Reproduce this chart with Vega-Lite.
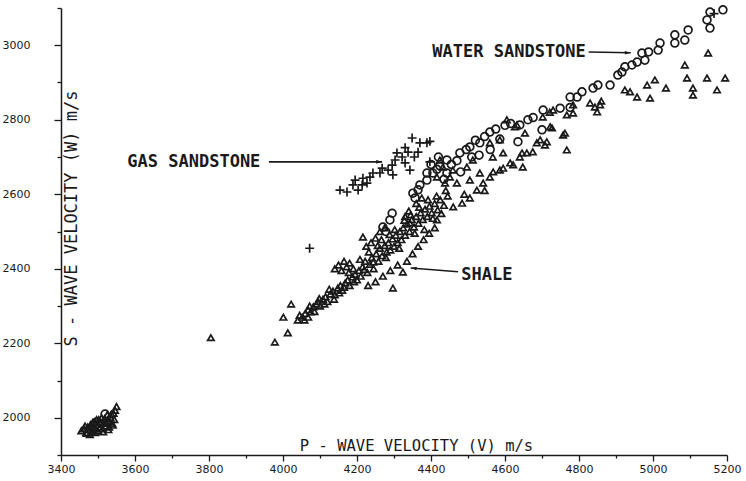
{
  "$schema": "https://vega.github.io/schema/vega-lite/v6.json",
  "width": 666,
  "height": 447,
  "autosize": {"type": "none"},
  "padding": {"left": 61, "top": 8, "right": 19, "bottom": 26},
  "background": "white",
  "config": {
    "view": {"stroke": null},
    "axis": {
      "domainColor": "#1a1a1a", "domainWidth": 1.5, "tickColor": "#1a1a1a", "tickWidth": 1.3,
      "labelFont": "DejaVu Sans", "labelFontSize": 11, "labelColor": "#1a1a1a", "grid": false,
      "titleFont": "DejaVu Sans Mono", "titleFontSize": 15, "titleFontWeight": "normal", "titleColor": "#1a1a1a",
      "labelFlush": false, "labelOverlap": false
    }
  },
  "datasets": {
    "labels": [
      {"v": 3759, "w": 2687, "label": "GAS SANDSTONE"},
      {"v": 4611, "w": 2982, "label": "WATER SANDSTONE"},
      {"v": 4551, "w": 2383, "label": "SHALE"}
    ],
    "arrows": [
      {"v": 3962, "w": 2687, "v2": 4268, "w2": 2687},
      {"v": 4826, "w": 2982, "v2": 4940, "w2": 2980},
      {"v": 4473, "w": 2392, "v2": 4345, "w2": 2402}
    ],
    "points": [
      {"v":3455,"w":1965,"t":"shale"},{"v":3462,"w":1970,"t":"shale"},{"v":3468,"w":1960,"t":"shale"},{"v":3472,"w":1975,"t":"shale"},{"v":3476,"w":1968,"t":"shale"},{"v":3480,"w":1982,"t":"shale"},{"v":3484,"w":1962,"t":"shale"},{"v":3488,"w":1975,"t":"shale"},{"v":3490,"w":1990,"t":"shale"},{"v":3494,"w":1970,"t":"shale"},{"v":3498,"w":1982,"t":"shale"},{"v":3502,"w":1995,"t":"shale"},{"v":3505,"w":1975,"t":"shale"},{"v":3508,"w":1988,"t":"shale"},{"v":3512,"w":1970,"t":"shale"},{"v":3515,"w":1985,"t":"shale"},{"v":3518,"w":1998,"t":"shale"},{"v":3522,"w":1978,"t":"shale"},{"v":3526,"w":1992,"t":"shale"},{"v":3530,"w":1975,"t":"shale"},{"v":3534,"w":2000,"t":"shale"},{"v":3538,"w":1985,"t":"shale"},{"v":3542,"w":2012,"t":"shale"},{"v":3546,"w":2020,"t":"shale"},{"v":3550,"w":2030,"t":"shale"},{"v":3540,"w":1980,"t":"shale"},{"v":3470,"w":1958,"t":"shale"},{"v":3500,"w":1965,"t":"shale"},{"v":3486,"w":1988,"t":"shale"},{"v":3525,"w":2008,"t":"shale"},
      {"v":3465,"w":1978,"t":"shale"},{"v":3478,"w":1955,"t":"shale"},{"v":3492,"w":1960,"t":"shale"},{"v":3496,"w":1995,"t":"shale"},{"v":3510,"w":2000,"t":"shale"},{"v":3514,"w":1962,"t":"shale"},{"v":3520,"w":1988,"t":"shale"},{"v":3528,"w":1968,"t":"shale"},{"v":3532,"w":1990,"t":"shale"},{"v":3536,"w":2010,"t":"shale"},{"v":3544,"w":1995,"t":"shale"},{"v":3482,"w":1972,"t":"shale"},
      {"v":3805,"w":2215,"t":"shale"},{"v":3978,"w":2203,"t":"shale"},{"v":4013,"w":2228,"t":"shale"},{"v":4001,"w":2270,"t":"shale"},{"v":4022,"w":2305,"t":"shale"},{"v":4068,"w":2270,"t":"shale"},
      {"v":4040,"w":2262,"t":"shale"},{"v":4052,"w":2270,"t":"shale"},{"v":4060,"w":2280,"t":"shale"},{"v":4068,"w":2290,"t":"shale"},{"v":4075,"w":2284,"t":"shale"},{"v":4082,"w":2298,"t":"shale"},{"v":4090,"w":2305,"t":"shale"},{"v":4095,"w":2312,"t":"shale"},{"v":4100,"w":2300,"t":"shale"},{"v":4108,"w":2318,"t":"shale"},{"v":4115,"w":2325,"t":"shale"},{"v":4120,"w":2312,"t":"shale"},{"v":4128,"w":2332,"t":"shale"},{"v":4135,"w":2340,"t":"shale"},{"v":4140,"w":2330,"t":"shale"},{"v":4148,"w":2348,"t":"shale"},{"v":4155,"w":2355,"t":"shale"},{"v":4160,"w":2342,"t":"shale"},{"v":4168,"w":2362,"t":"shale"},{"v":4175,"w":2370,"t":"shale"},{"v":4180,"w":2355,"t":"shale"},{"v":4188,"w":2378,"t":"shale"},{"v":4195,"w":2385,"t":"shale"},{"v":4200,"w":2370,"t":"shale"},
      {"v":4140,"w":2400,"t":"shale"},{"v":4150,"w":2410,"t":"shale"},{"v":4158,"w":2395,"t":"shale"},{"v":4165,"w":2420,"t":"shale"},{"v":4172,"w":2405,"t":"shale"},{"v":4180,"w":2415,"t":"shale"},{"v":4190,"w":2400,"t":"shale"},
      {"v":4045,"w":2275,"t":"shale"},{"v":4058,"w":2262,"t":"shale"},{"v":4072,"w":2300,"t":"shale"},{"v":4085,"w":2285,"t":"shale"},{"v":4098,"w":2320,"t":"shale"},{"v":4112,"w":2305,"t":"shale"},{"v":4125,"w":2345,"t":"shale"},{"v":4138,"w":2318,"t":"shale"},{"v":4152,"w":2335,"t":"shale"},{"v":4165,"w":2350,"t":"shale"},{"v":4178,"w":2390,"t":"shale"},{"v":4192,"w":2365,"t":"shale"},
      {"v":4205,"w":2395,"t":"shale"},{"v":4210,"w":2380,"t":"shale"},{"v":4215,"w":2405,"t":"shale"},{"v":4222,"w":2420,"t":"shale"},{"v":4228,"w":2390,"t":"shale"},{"v":4235,"w":2412,"t":"shale"},{"v":4240,"w":2430,"t":"shale"},{"v":4245,"w":2400,"t":"shale"},{"v":4252,"w":2440,"t":"shale"},{"v":4258,"w":2420,"t":"shale"},{"v":4262,"w":2455,"t":"shale"},{"v":4268,"w":2435,"t":"shale"},{"v":4275,"w":2462,"t":"shale"},{"v":4280,"w":2445,"t":"shale"},{"v":4285,"w":2470,"t":"shale"},{"v":4290,"w":2450,"t":"shale"},{"v":4296,"w":2480,"t":"shale"},{"v":4300,"w":2460,"t":"shale"},{"v":4305,"w":2490,"t":"shale"},{"v":4310,"w":2470,"t":"shale"},{"v":4316,"w":2500,"t":"shale"},{"v":4320,"w":2478,"t":"shale"},
      {"v":4225,"w":2460,"t":"shale"},{"v":4238,"w":2470,"t":"shale"},{"v":4250,"w":2482,"t":"shale"},{"v":4216,"w":2485,"t":"shale"},{"v":4262,"w":2500,"t":"shale"},{"v":4275,"w":2510,"t":"shale"},
      {"v":4230,"w":2355,"t":"shale"},{"v":4250,"w":2365,"t":"shale"},{"v":4270,"w":2380,"t":"shale"},{"v":4290,"w":2395,"t":"shale"},{"v":4310,"w":2410,"t":"shale"},{"v":4297,"w":2348,"t":"shale"},
      {"v":4208,"w":2425,"t":"shale"},{"v":4220,"w":2398,"t":"shale"},{"v":4232,"w":2445,"t":"shale"},{"v":4244,"w":2418,"t":"shale"},{"v":4256,"w":2462,"t":"shale"},{"v":4266,"w":2478,"t":"shale"},{"v":4278,"w":2430,"t":"shale"},{"v":4288,"w":2492,"t":"shale"},{"v":4302,"w":2505,"t":"shale"},{"v":4314,"w":2455,"t":"shale"},
      {"v":4325,"w":2510,"t":"shale"},{"v":4330,"w":2490,"t":"shale"},{"v":4336,"w":2520,"t":"shale"},{"v":4342,"w":2500,"t":"shale"},{"v":4348,"w":2532,"t":"shale"},{"v":4354,"w":2512,"t":"shale"},{"v":4360,"w":2540,"t":"shale"},{"v":4366,"w":2522,"t":"shale"},{"v":4372,"w":2550,"t":"shale"},{"v":4378,"w":2532,"t":"shale"},{"v":4384,"w":2560,"t":"shale"},{"v":4390,"w":2540,"t":"shale"},{"v":4396,"w":2568,"t":"shale"},{"v":4402,"w":2550,"t":"shale"},{"v":4410,"w":2575,"t":"shale"},{"v":4418,"w":2558,"t":"shale"},{"v":4425,"w":2585,"t":"shale"},{"v":4435,"w":2570,"t":"shale"},{"v":4445,"w":2595,"t":"shale"},
      {"v":4324,"w":2391,"t":"shale"},{"v":4335,"w":2420,"t":"shale"},{"v":4350,"w":2440,"t":"shale"},{"v":4365,"w":2460,"t":"shale"},{"v":4380,"w":2478,"t":"shale"},{"v":4395,"w":2495,"t":"shale"},{"v":4410,"w":2510,"t":"shale"},
      {"v":4340,"w":2555,"t":"shale"},{"v":4360,"w":2575,"t":"shale"},{"v":4375,"w":2590,"t":"shale"},{"v":4330,"w":2540,"t":"shale"},
      {"v":4328,"w":2530,"t":"shale"},{"v":4345,"w":2545,"t":"shale"},{"v":4356,"w":2495,"t":"shale"},{"v":4368,"w":2565,"t":"shale"},{"v":4382,"w":2505,"t":"shale"},{"v":4392,"w":2585,"t":"shale"},{"v":4405,"w":2535,"t":"shale"},{"v":4415,"w":2595,"t":"shale"},{"v":4428,"w":2548,"t":"shale"},{"v":4440,"w":2610,"t":"shale"},
      {"v":4460,"w":2566,"t":"shale"},{"v":4484,"w":2576,"t":"shale"},{"v":4524,"w":2611,"t":"shale"},{"v":4541,"w":2630,"t":"shale"},{"v":4559,"w":2646,"t":"shale"},{"v":4586,"w":2665,"t":"shale"},{"v":4614,"w":2684,"t":"shale"},{"v":4640,"w":2700,"t":"shale"},{"v":4659,"w":2711,"t":"shale"},{"v":4675,"w":2714,"t":"shale"},{"v":4686,"w":2738,"t":"shale"},{"v":4713,"w":2741,"t":"shale"},{"v":4767,"w":2719,"t":"shale"},{"v":4762,"w":2764,"t":"shale"},{"v":4702,"w":2807,"t":"shale"},{"v":4721,"w":2820,"t":"shale"},{"v":4767,"w":2813,"t":"shale"},{"v":4627,"w":2781,"t":"shale"},{"v":4605,"w":2800,"t":"shale"},{"v":4654,"w":2764,"t":"shale"},
      {"v":4497,"w":2673,"t":"shale"},{"v":4513,"w":2692,"t":"shale"},{"v":4532,"w":2657,"t":"shale"},{"v":4505,"w":2638,"t":"shale"},{"v":4451,"w":2646,"t":"shale"},{"v":4432,"w":2673,"t":"shale"},{"v":4567,"w":2700,"t":"shale"},{"v":4595,"w":2711,"t":"shale"},{"v":4559,"w":2738,"t":"shale"},{"v":4586,"w":2746,"t":"shale"},
      {"v":4632,"w":2786,"t":"shale"},{"v":4727,"w":2778,"t":"shale"},{"v":4695,"w":2746,"t":"shale"},{"v":4646,"w":2711,"t":"shale"},{"v":4708,"w":2732,"t":"shale"},{"v":4648,"w":2673,"t":"shale"},{"v":4622,"w":2679,"t":"shale"},{"v":4595,"w":2670,"t":"shale"},{"v":4568,"w":2660,"t":"shale"},
      {"v":4757,"w":2759,"t":"shale"},{"v":4843,"w":2834,"t":"shale"},{"v":4849,"w":2821,"t":"shale"},{"v":4730,"w":2826,"t":"shale"},{"v":4784,"w":2818,"t":"shale"},{"v":4722,"w":2781,"t":"shale"},{"v":4830,"w":2845,"t":"shale"},{"v":4860,"w":2850,"t":"shale"},
      {"v":4438,"w":2630,"t":"shale"},{"v":4470,"w":2630,"t":"shale"},{"v":4416,"w":2531,"t":"shale"},{"v":4343,"w":2523,"t":"shale"},{"v":4424,"w":2692,"t":"shale"},{"v":4459,"w":2665,"t":"shale"},{"v":4416,"w":2646,"t":"shale"},
      {"v":4505,"w":2590,"t":"shale"},{"v":4490,"w":2600,"t":"shale"},{"v":4545,"w":2610,"t":"shale"},
      {"v":5149,"w":2979,"t":"shale"},{"v":5086,"w":2947,"t":"shale"},{"v":5092,"w":2912,"t":"shale"},{"v":5146,"w":2912,"t":"shale"},{"v":5195,"w":2912,"t":"shale"},{"v":5108,"w":2885,"t":"shale"},{"v":5108,"w":2866,"t":"shale"},{"v":5173,"w":2880,"t":"shale"},{"v":5035,"w":2885,"t":"shale"},{"v":4992,"w":2858,"t":"shale"},{"v":4984,"w":2893,"t":"shale"},{"v":5005,"w":2907,"t":"shale"},{"v":4924,"w":2880,"t":"shale"},{"v":4938,"w":2875,"t":"shale"},{"v":4957,"w":2861,"t":"shale"},{"v":4857,"w":2840,"t":"shale"},{"v":4784,"w":2840,"t":"shale"},
      {"v":3519,"w":2010,"t":"water"},{"v":4270,"w":2512,"t":"water"},{"v":4278,"w":2500,"t":"water"},{"v":4289,"w":2531,"t":"water"},{"v":4295,"w":2549,"t":"water"},{"v":4351,"w":2603,"t":"water"},{"v":4357,"w":2590,"t":"water"},{"v":4365,"w":2612,"t":"water"},{"v":4370,"w":2625,"t":"water"},{"v":4389,"w":2638,"t":"water"},{"v":4389,"w":2657,"t":"water"},{"v":4405,"w":2657,"t":"water"},{"v":4416,"w":2667,"t":"water"},{"v":4424,"w":2676,"t":"water"},{"v":4443,"w":2692,"t":"water"},{"v":4443,"w":2657,"t":"water"},{"v":4478,"w":2711,"t":"water"},{"v":4505,"w":2727,"t":"water"},{"v":4510,"w":2700,"t":"water"},{"v":4532,"w":2738,"t":"water"},{"v":4559,"w":2767,"t":"water"},{"v":4586,"w":2748,"t":"water"},{"v":4635,"w":2741,"t":"water"},{"v":4640,"w":2786,"t":"water"},{"v":4662,"w":2800,"t":"water"},{"v":4676,"w":2806,"t":"water"},{"v":4700,"w":2773,"t":"water"},{"v":4703,"w":2826,"t":"water"},{"v":4749,"w":2831,"t":"water"},{"v":4776,"w":2833,"t":"water"},{"v":4776,"w":2861,"t":"water"},{"v":4795,"w":2861,"t":"water"},{"v":4808,"w":2875,"t":"water"},{"v":4838,"w":2885,"t":"water"},{"v":4851,"w":2893,"t":"water"},{"v":4884,"w":2893,"t":"water"},{"v":4905,"w":2920,"t":"water"},{"v":4916,"w":2928,"t":"water"},{"v":4924,"w":2942,"t":"water"},{"v":4943,"w":2947,"t":"water"},{"v":4957,"w":2955,"t":"water"},{"v":4970,"w":2979,"t":"water"},{"v":4978,"w":2960,"t":"water"},{"v":4988,"w":2982,"t":"water"},{"v":5014,"w":2987,"t":"water"},{"v":5019,"w":3006,"t":"water"},{"v":5059,"w":3006,"t":"water"},{"v":5059,"w":3028,"t":"water"},{"v":5086,"w":3014,"t":"water"},{"v":5095,"w":3041,"t":"water"},{"v":5146,"w":3068,"t":"water"},{"v":5154,"w":3046,"t":"water"},{"v":5154,"w":3089,"t":"water"},{"v":5189,"w":3095,"t":"water"},
      {"v":4400,"w":2680,"t":"water"},{"v":4420,"w":2700,"t":"water"},{"v":4435,"w":2640,"t":"water"},{"v":4455,"w":2680,"t":"water"},{"v":4470,"w":2690,"t":"water"},{"v":4480,"w":2660,"t":"water"},{"v":4495,"w":2720,"t":"water"},{"v":4520,"w":2745,"t":"water"},{"v":4545,"w":2755,"t":"water"},{"v":4575,"w":2775,"t":"water"},{"v":4600,"w":2785,"t":"water"},{"v":4615,"w":2790,"t":"water"},{"v":4560,"w":2720,"t":"water"},{"v":4530,"w":2705,"t":"water"},
      {"v":4154,"w":2611,"t":"gas"},{"v":4173,"w":2606,"t":"gas"},{"v":4189,"w":2625,"t":"gas"},{"v":4195,"w":2638,"t":"gas"},{"v":4203,"w":2611,"t":"gas"},{"v":4214,"w":2625,"t":"gas"},{"v":4216,"w":2643,"t":"gas"},{"v":4227,"w":2630,"t":"gas"},{"v":4235,"w":2646,"t":"gas"},{"v":4243,"w":2657,"t":"gas"},{"v":4262,"w":2657,"t":"gas"},{"v":4268,"w":2670,"t":"gas"},{"v":4284,"w":2665,"t":"gas"},{"v":4295,"w":2678,"t":"gas"},{"v":4297,"w":2652,"t":"gas"},{"v":4303,"w":2692,"t":"gas"},{"v":4308,"w":2711,"t":"gas"},{"v":4322,"w":2700,"t":"gas"},{"v":4330,"w":2684,"t":"gas"},{"v":4338,"w":2713,"t":"gas"},{"v":4343,"w":2665,"t":"gas"},{"v":4349,"w":2751,"t":"gas"},{"v":4365,"w":2713,"t":"gas"},{"v":4370,"w":2738,"t":"gas"},{"v":4389,"w":2738,"t":"gas"},{"v":4397,"w":2687,"t":"gas"},{"v":4330,"w":2725,"t":"gas"},{"v":4397,"w":2742,"t":"gas"},{"v":4355,"w":2700,"t":"gas"},{"v":4072,"w":2455,"t":"gas"},{"v":5165,"w":3085,"t":"gas"}
    ]
  },
  "encoding": {
    "x": {
      "field": "v", "type": "quantitative",
      "scale": {"domain": [3400, 5200], "nice": false, "zero": false},
      "axis": {
        "title": "P - WAVE  VELOCITY (V) m/s",
        "titleFontSize": 15.5,
        "values": [3400,3500,3600,3700,3800,3900,4000,4100,4200,4300,4400,4500,4600,4700,4800,4900,5000,5100,5200],
        "format": "d",
        "labelExpr": "datum.value % 200 === 0 ? datum.label : ''",
        "tickSize": {"condition": {"test": "datum.value % 200 === 0", "value": 6}, "value": 3},
        "labelPadding": 2,
        "titleX": 355, "titleY": -5, "titleAlign": "center", "titleBaseline": "alphabetic"
      }
    },
    "y": {
      "field": "w", "type": "quantitative",
      "scale": {"domain": [1900, 3100], "nice": false, "zero": false},
      "axis": {
        "title": "S - WAVE VELOCITY (W) m/s",
        "titleFontSize": 17,
        "values": [1900,2000,2100,2200,2300,2400,2500,2600,2700,2800,2900,3000,3100],
        "format": "d",
        "labelExpr": "datum.value % 200 === 0 && datum.value <= 3000 ? datum.label : ''",
        "tickSize": {"condition": {"test": "datum.value % 200 === 0", "value": 7}, "value": 4},
        "labelPadding": 24,
        "titleX": 15, "titleY": 210, "titleAngle": -90, "titleAlign": "center", "titleBaseline": "alphabetic"
      }
    }
  },
  "layer": [
    {
      "data": {"name": "points"},
      "mark": {"type": "point", "filled": false, "strokeWidth": 1.7, "color": "#1a1a1a", "opacity": 1},
      "encoding": {
        "shape": {"field": "t", "type": "nominal", "legend": null,
          "scale": {"domain": ["shale", "water", "gas"], "range": ["triangle-up", "circle", "M-1,0L1,0M0,-1L0,1"]}},
        "size": {"field": "t", "type": "nominal", "legend": null,
          "scale": {"domain": ["shale", "water", "gas"], "range": [42, 80, 70]}}
      }
    },
    {
      "data": {"name": "arrows"},
      "mark": {"type": "rule", "color": "#1a1a1a", "strokeWidth": 1.6},
      "encoding": {"x2": {"field": "v2"}, "y2": {"field": "w2"}}
    },
    {
      "data": {"name": "arrows"},
      "transform": [{"filter": "datum.v2 > datum.v"}],
      "mark": {"type": "point", "filled": true, "color": "#1a1a1a", "opacity": 1, "shape": "M0,0L-1,-0.3L-1,0.3Z", "size": 144},
      "encoding": {"x": {"field": "v2", "type": "quantitative"}, "y": {"field": "w2", "type": "quantitative"}}
    },
    {
      "data": {"name": "arrows"},
      "transform": [{"filter": "datum.v2 < datum.v"}],
      "mark": {"type": "point", "filled": true, "color": "#1a1a1a", "opacity": 1, "shape": "M0,0L1,-0.3L1,0.3Z", "size": 144, "angle": 5},
      "encoding": {"x": {"field": "v2", "type": "quantitative"}, "y": {"field": "w2", "type": "quantitative"}}
    },
    {
      "data": {"name": "labels"},
      "mark": {"type": "text", "font": "DejaVu Sans Mono", "fontSize": 17, "fontWeight": "bold", "color": "#1a1a1a", "align": "center", "baseline": "middle"},
      "encoding": {"text": {"field": "label"}}
    }
  ]
}
